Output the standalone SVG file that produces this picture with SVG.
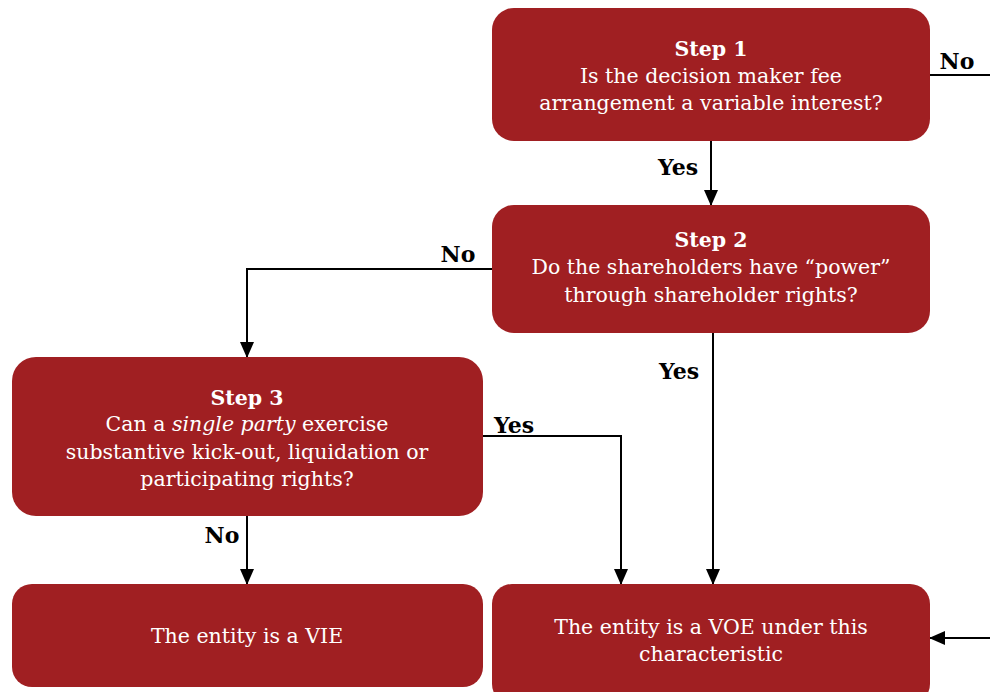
<svg xmlns="http://www.w3.org/2000/svg" width="990" height="692" viewBox="0 0 990 692">
<style>
.box{fill:#A01F22;}
.t{font-family:"DejaVu Serif","Liberation Serif",serif;font-size:20.5px;fill:#fff;text-anchor:middle;}
.b{font-weight:bold;}
.lbl{font-family:"DejaVu Serif","Liberation Serif",serif;font-size:22px;font-weight:bold;fill:#000;text-anchor:middle;}
.c{fill:none;stroke:#000;stroke-width:2;}
</style>
<defs>
<marker id="ah2" markerWidth="16" markerHeight="16" refX="15" refY="8" orient="auto" markerUnits="userSpaceOnUse" viewBox="0 0 16 16">
<path d="M0,1 L16,8 L0,15 z" fill="#000"/>
</marker>
</defs>
<rect width="990" height="692" fill="#fff"/>
<g id="connectors">
<path class="c" d="M930,75 H990"/>
<path class="c" d="M711,141 V205" marker-end="url(#ah2)"/>
<path class="c" d="M492,269 H247 V357" marker-end="url(#ah2)"/>
<path class="c" d="M713,333 V584" marker-end="url(#ah2)"/>
<path class="c" d="M483,436 H621 V584" marker-end="url(#ah2)"/>
<path class="c" d="M247,516 V584" marker-end="url(#ah2)"/>
<path class="c" d="M990,638 H930" marker-end="url(#ah2)"/>
<text class="lbl" x="957" y="69">No</text>
<text class="lbl" x="678" y="175">Yes</text>
<text class="lbl" x="458" y="262">No</text>
<text class="lbl" x="679" y="379">Yes</text>
<text class="lbl" x="514" y="433">Yes</text>
<text class="lbl" x="222" y="543">No</text>
</g>
<g id="step1">
<rect class="box" x="492" y="8" width="438" height="133" rx="22"/>
<text class="t b" x="711" y="56">Step 1</text>
<text class="t" x="711" y="83">Is the decision maker fee</text>
<text class="t" x="711" y="110">arrangement a variable interest?</text>
</g>
<g id="step2">
<rect class="box" x="492" y="205" width="438" height="128" rx="22"/>
<text class="t b" x="711" y="247">Step 2</text>
<text class="t" x="711" y="274">Do the shareholders have “power”</text>
<text class="t" x="711" y="302">through shareholder rights?</text>
</g>
<g id="step3">
<rect class="box" x="12" y="357" width="471" height="159" rx="24"/>
<text class="t b" x="247" y="405">Step 3</text>
<text class="t" x="247" y="431">Can a <tspan font-style="italic">single party</tspan> exercise</text>
<text class="t" x="247" y="459">substantive kick-out, liquidation or</text>
<text class="t" x="247" y="486">participating rights?</text>
</g>
<g id="vie">
<rect class="box" x="12" y="584" width="471" height="103" rx="20"/>
<text class="t" x="247" y="643">The entity is a VIE</text>
</g>
<g id="voe">
<rect class="box" x="492" y="584" width="438" height="120" rx="20"/>
<text class="t" x="711" y="634">The entity is a VOE under this</text>
<text class="t" x="711" y="661">characteristic</text>
</g>
</svg>
